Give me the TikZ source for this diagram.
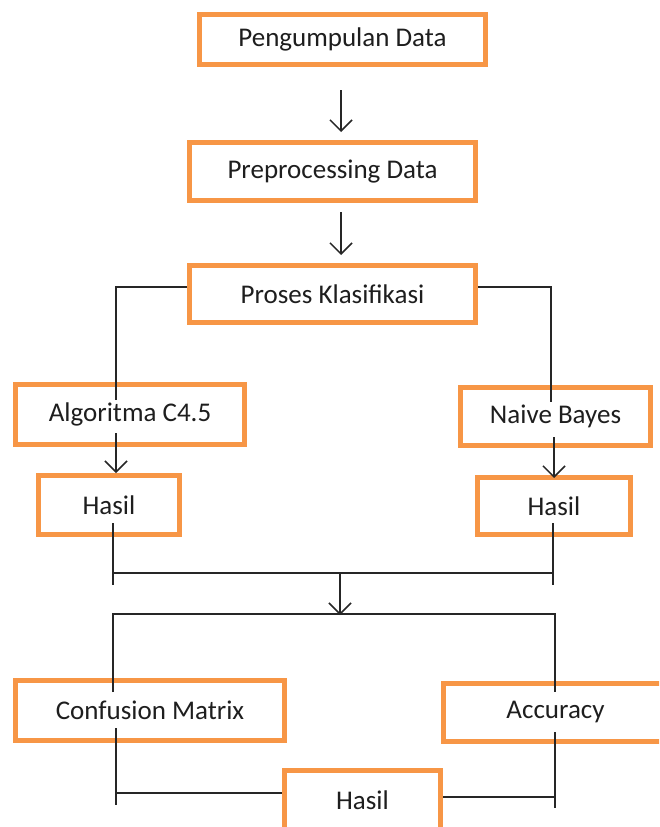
\documentclass[tikz,border=0pt]{standalone}
\usepackage{fontspec}
\setmainfont{Carlito}
\usetikzlibrary{arrows.meta}
\definecolor{boxorange}{RGB}{247,150,70}
\definecolor{txt}{RGB}{30,30,30}
\begin{document}
\begin{tikzpicture}[x=1pt,y=-1pt,
  box/.style={draw=boxorange,line width=5pt,fill=white,rectangle,inner sep=0pt,
    text=txt,font=\fontsize{27}{32}\selectfont},
  conn/.style={draw=black!85,line width=1.5pt},
  arr/.style={conn,-{Straight Barb[length=11pt,width=22pt,line width=1.5pt]}}]
\useasboundingbox (0,0) rectangle (659,827);
\clip (0,0) rectangle (659,827);
\fill[white] (0,0) rectangle (659,827);
% boxes
\node[box,minimum width=286pt,minimum height=50pt] (peng) at (342.5,39.5) {Pengumpulan Data};
\node[box,minimum width=286pt,minimum height=58pt] (prep) at (332.5,171.5) {Preprocessing Data};
\node[box,minimum width=286pt,minimum height=57pt] (pros) at (332.5,294) {Proses Klasifikasi};
\node[box,minimum width=229pt,minimum height=60pt] (algo) at (130,414.5) {Algoritma C4.5};
\node[box,minimum width=190pt,minimum height=58pt] (nb) at (555.5,416.5) {Naive Bayes};
\node[box,minimum width=141pt,minimum height=59pt] (hasL) at (109,505) {Hasil};
\node[box,minimum width=153pt,minimum height=57pt] (hasR) at (554,506) {Hasil};
\node[box,minimum width=269pt,minimum height=60pt] (cm) at (150,710.5) {Confusion Matrix};
\node[box,minimum width=224pt,minimum height=58pt] (acc) at (555.5,712.5) {Accuracy};
\node[box,minimum width=156pt,minimum height=64pt] (hasB) at (362.5,802) {\raisebox{3pt}{Hasil}};
% coordinates
\coordinate (a1s) at (341,90);   \coordinate (a1e) at (341,132);
\coordinate (a2s) at (341,212);  \coordinate (a2e) at (341,255);
\coordinate (pl) at (pros.west |- 0,287);
\coordinate (pr) at (pros.east |- 0,287);
\coordinate (lc) at (116,287);   \coordinate (ld) at (116,400);
\coordinate (rc) at (551,287);   \coordinate (rd) at (551,402);
\coordinate (a3s) at (116,433);  \coordinate (a3e) at (116,473);
\coordinate (a4s) at (554,437);  \coordinate (a4e) at (554,478);
\coordinate (hl1) at (113,523);  \coordinate (hl2) at (113,585);
\coordinate (hr1) at (553,523);  \coordinate (hr2) at (553,585);
\coordinate (jl) at (113,573);   \coordinate (jr) at (553,573);
\coordinate (a5s) at (340,573);  \coordinate (a5e) at (340,615);
\coordinate (sl) at (113,614);   \coordinate (sr) at (555,614);
\coordinate (sld) at (113,692);  \coordinate (srd) at (555,692);
\coordinate (cl1) at (116,728);  \coordinate (cl2) at (116,805);
\coordinate (cl3) at (116,793);  \coordinate (hbl) at (hasB.west |- 0,793);
\coordinate (cr1) at (555,732);  \coordinate (cr2) at (555,808);
\coordinate (cr3) at (555,797);  \coordinate (hbr) at (hasB.east |- 0,797);
% connectors
\draw[arr] (a1s) -- (a1e);
\draw[arr] (a2s) -- (a2e);
\draw[conn] (pl) -- (lc) -- (ld);
\draw[conn] (pr) -- (rc) -- (rd);
\draw[arr] (a3s) -- (a3e);
\draw[arr] (a4s) -- (a4e);
\draw[conn] (hl1) -- (hl2);
\draw[conn] (hr1) -- (hr2);
\draw[conn] (jl) -- (jr);
\draw[arr] (a5s) -- (a5e);
\draw[conn] (sld) -- (sl) -- (sr) -- (srd);
\draw[conn] (cl1) -- (cl2);
\draw[conn] (cl3) -- (hbl);
\draw[conn] (cr1) -- (cr2);
\draw[conn] (hbr) -- (cr3);
\end{tikzpicture}
\end{document}
